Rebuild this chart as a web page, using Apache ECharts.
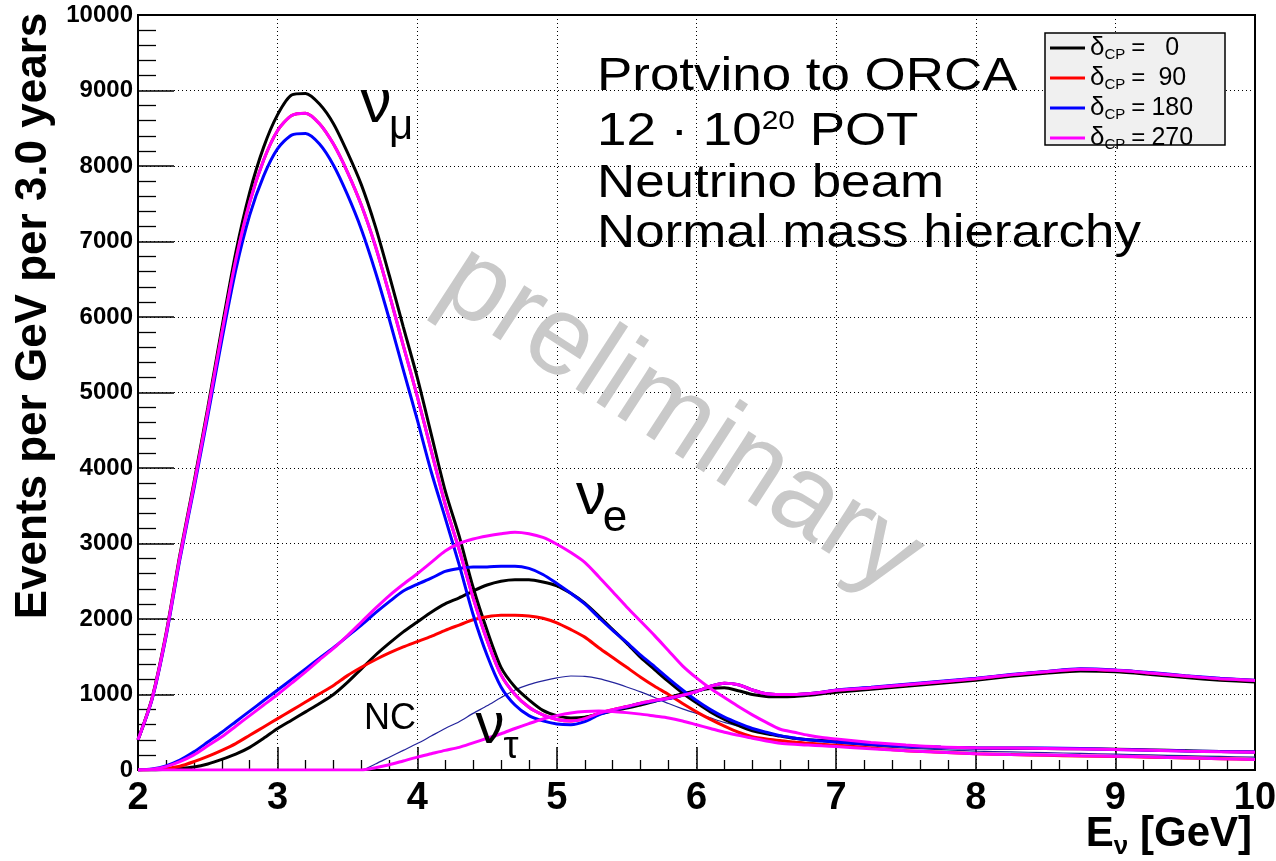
<!DOCTYPE html>
<html>
<head>
<meta charset="utf-8">
<script src="https://cdn.jsdelivr.net/npm/echarts@6/dist/echarts.min.js"></script>
<style>
  html, body { margin: 0; padding: 0; background: #ffffff; }
  #chart { width: 1276px; height: 861px; }
</style>
</head>
<body>
<div id="chart"></div>
<script>
// Neutrino energy bins (GeV)
const energy = [
  2.0, 2.1, 2.2, 2.3, 2.4, 2.5, 2.6, 2.7, 2.8, 2.9,
  3.0, 3.1, 3.2, 3.3, 3.4, 3.5, 3.6, 3.7, 3.8, 3.9,
  4.0, 4.1, 4.2, 4.3, 4.4, 4.5, 4.6, 4.7, 4.8, 4.9,
  5.0, 5.1, 5.2, 5.3, 5.4, 5.5, 5.6, 5.7, 5.8, 5.9,
  6.0, 6.1, 6.2, 6.3, 6.4, 6.5, 6.6, 6.7, 6.8, 6.9,
  7.0, 7.25, 7.5, 7.75, 8.0, 8.25, 8.5, 8.75, 9.0, 9.25, 9.5, 9.75, 10.0
];

// nu_mu CC events per GeV, one array per delta_CP
const numuD0 = [
  400, 950, 1800, 2850, 3800, 4800, 5850, 6850, 7650, 8250,
  8680, 8940, 8960, 8820, 8560, 8180, 7750, 7200, 6550, 5870,
  5200, 4450, 3700, 3100, 2420, 1850, 1360, 1100, 930, 790,
  720, 690, 700, 740, 780, 820, 860, 910, 960, 1010,
  1050, 1080, 1090, 1050, 1000, 975, 970, 975, 990, 1010,
  1030, 1070, 1110, 1150, 1190, 1240, 1280, 1310, 1300, 1265, 1225, 1190, 1165
];
const numuD90 = [
  400, 940, 1780, 2820, 3760, 4750, 5780, 6750, 7520, 8080,
  8470, 8670, 8700, 8560, 8290, 7920, 7480, 6940, 6300, 5620,
  4950, 4230, 3520, 2920, 2280, 1720, 1260, 1000, 830, 730,
  670, 650, 680, 750, 800, 840, 885, 920, 950, 990,
  1040, 1110, 1150, 1130, 1060, 1010, 1000, 1000, 1010, 1030,
  1055, 1090, 1130, 1170, 1210, 1260, 1300, 1335, 1320, 1285, 1245, 1210, 1185
];
const numuD180 = [
  400, 930, 1760, 2790, 3720, 4690, 5690, 6620, 7350, 7870,
  8230, 8410, 8430, 8290, 8010, 7620, 7160, 6600, 5970, 5300,
  4640, 3950, 3340, 2720, 2060, 1520, 1100, 860, 720, 650,
  610, 600, 640, 730, 790, 835, 880, 915, 945, 990,
  1040, 1110, 1150, 1130, 1060, 1010, 1000, 1000, 1010, 1030,
  1060, 1095, 1135, 1175, 1215, 1265, 1305, 1340, 1325, 1290, 1250, 1215, 1190
];
const numuD270 = [
  400, 940, 1780, 2820, 3760, 4750, 5780, 6750, 7520, 8080,
  8470, 8670, 8700, 8560, 8290, 7920, 7480, 6940, 6300, 5620,
  4950, 4230, 3520, 2920, 2280, 1720, 1260, 1000, 830, 730,
  670, 650, 680, 750, 800, 840, 885, 920, 950, 990,
  1040, 1110, 1150, 1130, 1060, 1010, 1000, 1000, 1010, 1030,
  1055, 1090, 1130, 1170, 1210, 1260, 1300, 1335, 1320, 1285, 1245, 1210, 1185
];

// nu_e CC events per GeV, one array per delta_CP
const nueD0 = [
  0, 0, 10, 20, 40, 80, 140, 210, 300, 420,
  550, 660, 770, 880, 1000, 1160, 1340, 1520, 1680, 1830,
  1960, 2090, 2200, 2280, 2370, 2450, 2500, 2520, 2520, 2490,
  2440, 2340, 2210, 2040, 1860, 1680, 1490, 1330, 1170, 1020,
  890, 770, 670, 590, 520, 480, 450, 420, 400, 390,
  380, 345, 320, 300, 290, 288, 285, 280, 275, 265, 255, 245, 238
];
const nueD90 = [
  0, 5, 20, 50, 110, 180, 260, 350, 460, 570,
  680, 790, 900, 1010, 1120, 1250, 1360, 1460, 1550, 1630,
  1700, 1770, 1850, 1920, 1990, 2030, 2050, 2050, 2040, 2010,
  1950, 1860, 1760, 1620, 1490, 1360, 1230, 1110, 1000, 880,
  770, 670, 580, 500, 440, 410, 390, 370, 355, 340,
  330, 290, 255, 235, 215, 205, 195, 185, 178, 170, 160, 150, 140
];
const nueD180 = [
  0, 15, 55, 130, 240, 370, 500, 640, 780, 920,
  1060, 1200, 1340, 1480, 1620, 1770, 1920, 2080, 2230, 2370,
  2460, 2540, 2630, 2670, 2690, 2690, 2700, 2700, 2670, 2590,
  2470, 2340, 2200, 2020, 1850, 1690, 1520, 1370, 1210, 1060,
  920, 800, 700, 620, 550, 500, 455, 425, 400, 385,
  370, 340, 315, 300, 292, 290, 290, 285, 272, 262, 252, 245, 240
];
const nueD270 = [
  0, 10, 45, 110, 200, 320, 440, 580, 720, 860,
  1000, 1150, 1300, 1460, 1610, 1780, 1960, 2140, 2310, 2460,
  2600, 2750, 2900, 3000, 3060, 3100, 3130, 3150, 3130, 3080,
  2990, 2880, 2750, 2560, 2360, 2160, 1970, 1780, 1580, 1380,
  1220, 1080, 960, 840, 730, 630, 540, 500, 460, 430,
  410, 365, 330, 305, 295, 290, 285, 278, 270, 262, 250, 242, 235
];

// neutral-current background
const ncEvents = [
  0, 0, 0, 0, 0, 0, 0, 0, 0, 0,
  0, 0, 0, 0, 0, 0, 0, 80, 170, 260,
  350, 450, 550, 640, 750, 850, 960, 1060, 1130, 1180,
  1220, 1245, 1240, 1210, 1160, 1100, 1035, 960, 880, 810,
  750, 690, 630, 580, 530, 490, 455, 425, 400, 380,
  360, 320, 290, 270, 250, 240, 230, 220, 210, 200, 190, 180, 170
];

// nu_tau CC events (threshold ~3.5 GeV)
const nutauEvents = [
  0, 0, 0, 0, 0, 0, 0, 0, 0, 0,
  0, 0, 0, 0, 0, 0, 0, 30, 70, 120,
  170, 215, 260, 300, 360, 420, 480, 550, 615, 675,
  720, 755, 775, 780, 775, 760, 740, 715, 690, 650,
  600, 550, 500, 460, 420, 385, 355, 340, 330, 320,
  310, 280, 255, 235, 215, 205, 198, 190, 183, 172, 162, 150, 138
];

const deltaCP = ['0', '90', '180', '270'];
const deltaColors = ['#000000', '#ff0000', '#0000ff', '#ff00ff'];
const xTicks = [2, 10, 1];        // min, max, step (GeV)
const yTicks = [0, 10000, 1000];  // min, max, step

const FONT = '"Liberation Sans", Arial, Helvetica, sans-serif';

const series = [];
function addCurve(name, values, color, width) {
  series.push({
    type: 'line',
    name: name,
    data: energy.map((e, i) => [e, values[i]]),
    showSymbol: false,
    smooth: 0.25,
    lineStyle: { color: color, width: width },
    itemStyle: { color: color },
    emphasis: { disabled: true },
    animation: false
  });
}

addCurve('NC', ncEvents, '#24249c', 1.2);
const numuSets = [numuD0, numuD90, numuD180, numuD270];
const nueSets = [nueD0, nueD90, nueD180, nueD270];
for (let k = 0; k < 4; k++) {
  addCurve(deltaCP[k], numuSets[k], deltaColors[k], 3);
  addCurve(deltaCP[k], nueSets[k], deltaColors[k], 3);
}
addCurve('270', nutauEvents, deltaColors[3], 3);

function txt(opt) {
  const s = Object.assign({ fill: '#000', fontFamily: FONT }, opt.style);
  if (s.align) s.textAlign = s.align;
  if (s.verticalAlign) s.textVerticalAlign = s.verticalAlign;
  return Object.assign({ type: 'text', z: 20 }, opt, { style: s });
}

const infoLines = ['Protvino to ORCA', null, 'Neutrino beam', 'Normal mass hierarchy'];
const infoY = [77, 132, 184, 234];

const graphics = [
  // watermark
  txt({ x: 680, y: 420, rotation: -33 * Math.PI / 180, z: 1,
        style: { text: 'preliminary', fontSize: 112, fill: '#c9c9c9', align: 'center', verticalAlign: 'middle' } }),
  // legend frame
  { type: 'rect', z: 9, shape: { x: 1045, y: 33, width: 180, height: 112 },
    style: { fill: '#f0f0f0', stroke: '#000', lineWidth: 1.5 } },
  // axis titles
  txt({ x: 34, y: 316, rotation: Math.PI / 2,
        style: { text: 'Events per GeV per 3.0 years', fontSize: 44, fontWeight: 'bold', align: 'center', verticalAlign: 'middle' } }),
  txt({ x: 1252, y: 834,
        style: { text: '{a|E}{b|ν}{a| [GeV]}', align: 'right', verticalAlign: 'middle',
                 rich: { a: { fontSize: 42, fontWeight: 'bold', fontFamily: FONT, lineHeight: 52, verticalAlign: 'middle' },
                         b: { fontSize: 26, fontWeight: 'bold', fontFamily: FONT, lineHeight: 26, verticalAlign: 'bottom' } } } }),
  // flavour labels
  txt({ x: 376, y: 105, style: { text: 'ν', fontSize: 62, align: 'center', verticalAlign: 'middle' } }),
  txt({ x: 401, y: 127, style: { text: 'μ', fontSize: 42, align: 'center', verticalAlign: 'middle' } }),
  txt({ x: 591, y: 497, style: { text: 'ν', fontSize: 60, align: 'center', verticalAlign: 'middle' } }),
  txt({ x: 615, y: 519, style: { text: 'e', fontSize: 44, align: 'center', verticalAlign: 'middle' } }),
  txt({ x: 490, y: 727, style: { text: 'ν', fontSize: 58, align: 'center', verticalAlign: 'middle' } }),
  txt({ x: 511, y: 748, style: { text: 'τ', fontSize: 38, align: 'center', verticalAlign: 'middle' } }),
  txt({ x: 390, y: 719, style: { text: 'NC', fontSize: 36, align: 'center', verticalAlign: 'middle' } })
];

// experiment description block
infoLines.forEach((line, i) => {
  if (line === null) {
    graphics.push(txt({ x: 597, y: infoY[i], scaleX: 1.15,
      style: { text: '{n|12 · 10}{s|20}{n| POT}', align: 'left', verticalAlign: 'middle',
               rich: { n: { fontSize: 46, fontFamily: FONT, lineHeight: 46 },
                       s: { fontSize: 26, fontFamily: FONT, lineHeight: 26, verticalAlign: 'top' } } } }));
  } else {
    graphics.push(txt({ x: 597, y: infoY[i], scaleX: 1.15,
      style: { text: line, fontSize: 46, align: 'left', verticalAlign: 'middle' } }));
  }
});

const chart = echarts.init(document.getElementById('chart'), null, { renderer: 'canvas' });
chart.setOption({
  animation: false,
  backgroundColor: '#ffffff',
  grid: {
    left: 138, right: 21, top: 15, bottom: 91,
    show: true, borderColor: '#000', borderWidth: 2, backgroundColor: 'transparent',
    containLabel: false, outerBoundsMode: 'none'
  },
  xAxis: {
    type: 'value', min: xTicks[0], max: xTicks[1], interval: xTicks[2],
    axisLine: { show: true, onZero: false, lineStyle: { color: '#000', width: 2 } },
    axisTick: { show: true, inside: true, length: 23, lineStyle: { color: '#000', width: 1.5 } },
    minorTick: { show: true, splitNumber: 5, length: 10, lineStyle: { color: '#000', width: 1.3 } },
    splitLine: { show: true, lineStyle: { color: '#000', width: 1, type: [1, 3] } },
    axisLabel: { color: '#000', fontSize: 38, fontWeight: 'bold', fontFamily: FONT, margin: 10,
                 formatter: v => String(v),
                 showMinLabel: true, showMaxLabel: true, hideOverlap: false }
  },
  yAxis: {
    type: 'value', min: yTicks[0], max: yTicks[1], interval: yTicks[2],
    axisLine: { show: true, onZero: false, lineStyle: { color: '#000', width: 2 } },
    axisTick: { show: true, inside: true, length: 36, lineStyle: { color: '#000', width: 1.5 } },
    minorTick: { show: true, splitNumber: 5, length: 18, lineStyle: { color: '#000', width: 1.3 } },
    splitLine: { show: true, lineStyle: { color: '#000', width: 1, type: [1, 3] } },
    axisLabel: { color: '#000', fontSize: 24, fontWeight: 'bold', fontFamily: FONT, margin: 5,
                 formatter: v => String(v),
                 showMinLabel: true, showMaxLabel: true, hideOverlap: false }
  },
  legend: {
    data: deltaCP,
    orient: 'vertical',
    left: 1050, top: 35,
    padding: 0,
    itemGap: 3,
    itemWidth: 35, itemHeight: 3,
    icon: 'rect',
    z: 10,
    selectedMode: false,
    formatter: name => '{d|δ}{s|CP}{e|=}{v|' + name + '}',
    textStyle: {
      color: '#000',
      rich: {
        d: { fontSize: 26, fontFamily: FONT, lineHeight: 28, color: '#000' },
        s: { fontSize: 15, fontFamily: FONT, lineHeight: 15, verticalAlign: 'bottom', color: '#000' },
        e: { fontSize: 24, fontFamily: FONT, lineHeight: 28, padding: [0, 0, 0, 6], color: '#000' },
        v: { fontSize: 25, fontFamily: FONT, lineHeight: 28, width: 54, align: 'center', color: '#000' }
      }
    }
  },
  graphic: { elements: graphics },
  series: series
});
</script>
</body>
</html>
